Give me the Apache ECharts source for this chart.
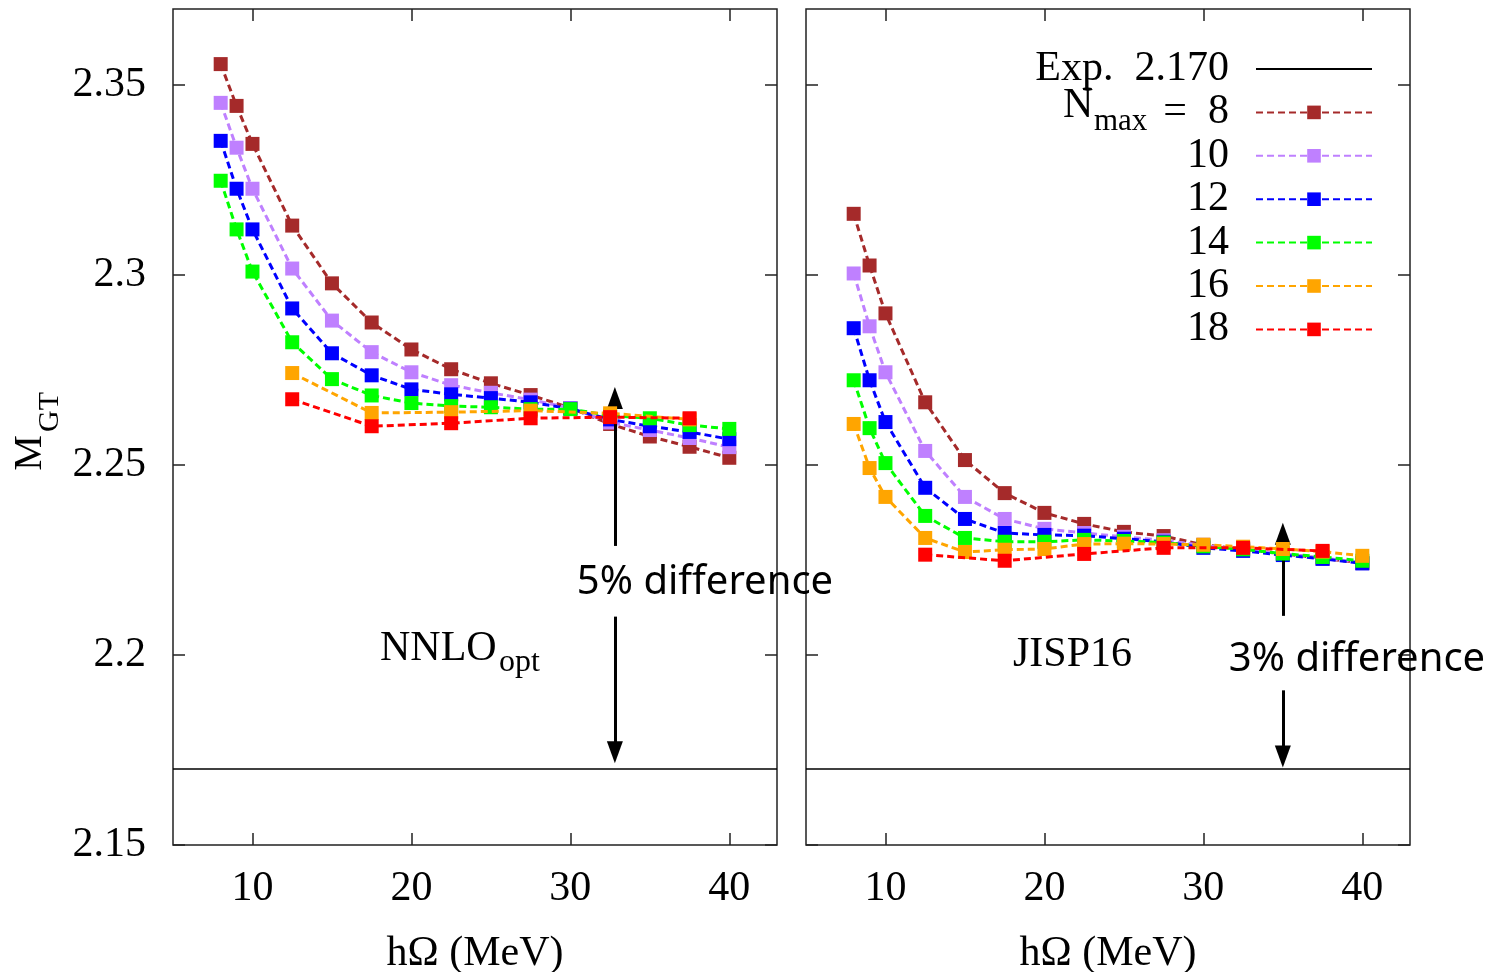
<!DOCTYPE html>
<html><head><meta charset="utf-8">
<script src="https://cdn.jsdelivr.net/npm/echarts@6/dist/echarts.min.js"></script>
<style>html,body{margin:0;padding:0;background:#fff}#c{width:1502px;height:972px}</style>
</head><body><div id="c"></div>
<script>
// ---------- data ----------
const hw = [8, 9, 10, 12.5, 15, 17.5, 20, 22.5, 25, 27.5, 30, 32.5, 35, 37.5, 40];
const hwOdd = [12.5, 17.5, 22.5, 27.5, 32.5, 37.5];
const xTicks = [10, 20, 30, 40];
const yTicks = [2.15, 2.2, 2.25, 2.3, 2.35];
const expValue = 2.170;
const nmaxNames = ['8', '10', '12', '14', '16', '18'];
const colors = ['#a52a2a', '#bf80ff', '#0000ff', '#00ff00', '#ffa500', '#ff0000'];

// NNLOopt panel
const nnlo8  = [2.3555, 2.3445, 2.3345, 2.3130, 2.2978, 2.2875, 2.2804, 2.2752, 2.2715, 2.2684, 2.2650, 2.2608, 2.2575, 2.2548, 2.2519];
const nnlo10 = [2.3453, 2.3335, 2.3227, 2.3017, 2.2880, 2.2797, 2.2744, 2.2710, 2.2690, 2.2672, 2.2650, 2.2612, 2.2592, 2.2571, 2.2547];
const nnlo12 = [2.3353, 2.3227, 2.3120, 2.2912, 2.2794, 2.2736, 2.2699, 2.2686, 2.2676, 2.2665, 2.2648, 2.2620, 2.2602, 2.2587, 2.2568];
const nnlo14 = [2.3248, 2.3120, 2.3009, 2.2823, 2.2726, 2.2683, 2.2663, 2.2655, 2.2652, 2.2647, 2.2647, 2.2630, 2.2623, 2.2605, 2.2595];
const nnlo16 = [2.2742, 2.2637, 2.2639, 2.2643, 2.2636, 2.2620];
const nnlo18 = [2.2673, 2.2602, 2.2610, 2.2623, 2.2626, 2.2623];

// JISP16 panel
const jisp8  = [2.3161, 2.3025, 2.2899, 2.2665, 2.2513, 2.2426, 2.2374, 2.2345, 2.2324, 2.2313, 2.2290, 2.2278, 2.2266, 2.2254, 2.2242];
const jisp10 = [2.3004, 2.2865, 2.2744, 2.2537, 2.2416, 2.2358, 2.2332, 2.2321, 2.2311, 2.2302, 2.2288, 2.2278, 2.2266, 2.2255, 2.2243];
const jisp12 = [2.2860, 2.2723, 2.2613, 2.2440, 2.2358, 2.2321, 2.2316, 2.2314, 2.2306, 2.2298, 2.2282, 2.2274, 2.2263, 2.2253, 2.2241];
const jisp14 = [2.2723, 2.2597, 2.2505, 2.2366, 2.2308, 2.2298, 2.2298, 2.2303, 2.2300, 2.2296, 2.2286, 2.2278, 2.2267, 2.2258, 2.2248];
const jisp16 = [2.2608, 2.2492, 2.2416, 2.2308, 2.2271, 2.2277, 2.2279, 2.2292, 2.2293, 2.2292, 2.2290, 2.2285, 2.2279, 2.2272, 2.2261];
const jisp18 = [2.2264, 2.2248, 2.2266, 2.2282, 2.2282, 2.2274];

// difference arrows (x, upper segment from->to, lower segment from->to)
const arrow5 = {x: 32.8, up: [2.2287, 2.2676], down: [2.2101, 2.1744]};
const arrow3 = {x: 35.0, up: [2.2103, 2.2319], down: [2.1907, 2.1733]};

// ---------- chart ----------
const SERIF = 'Liberation Serif';
const FRAME = '#222';
const chart = echarts.init(document.getElementById('c'), null, {renderer: 'canvas'});

const panelSets = [
  {grid: 0, xs: [hw, hw, hw, hw, hwOdd, hwOdd], ys: [nnlo8, nnlo10, nnlo12, nnlo14, nnlo16, nnlo18], arrow: arrow5},
  {grid: 1, xs: [hw, hw, hw, hw, hw, hwOdd], ys: [jisp8, jisp10, jisp12, jisp14, jisp16, jisp18], arrow: arrow3}
];

const tickStyle = {inside: true, length: 12, lineStyle: {color: FRAME, width: 1.5}};
const xAxes = [], yAxes = [], series = [];
[0, 1].forEach(g => {
  xAxes.push({
    type: 'value', gridIndex: g, position: 'bottom', min: 5, max: 43,
    axisLine: {show: false}, splitLine: {show: false},
    axisTick: Object.assign({customValues: xTicks}, tickStyle),
    axisLabel: {customValues: xTicks, fontFamily: SERIF, fontSize: 42, color: '#000', margin: 23},
    name: 'hΩ (MeV)', nameLocation: 'middle', nameGap: 88,
    nameTextStyle: {fontFamily: SERIF, fontSize: 42, color: '#000'}
  });
  xAxes.push({
    type: 'value', gridIndex: g, position: 'top', min: 5, max: 43,
    axisLine: {show: false}, splitLine: {show: false},
    axisTick: Object.assign({customValues: xTicks}, tickStyle),
    axisLabel: {show: false}
  });
  yAxes.push({
    type: 'value', gridIndex: g, position: 'left', min: 2.15, max: 2.37,
    axisLine: {show: false}, splitLine: {show: false},
    axisTick: Object.assign({customValues: yTicks}, tickStyle),
    axisLabel: {show: g === 0, customValues: yTicks, fontFamily: SERIF, fontSize: 42, color: '#000', margin: 27,
      formatter: v => String(+v.toFixed(2))}
  });
  yAxes.push({
    type: 'value', gridIndex: g, position: 'right', min: 2.15, max: 2.37,
    axisLine: {show: false}, splitLine: {show: false},
    axisTick: Object.assign({customValues: yTicks}, tickStyle),
    axisLabel: {show: false}
  });
});

panelSets.forEach(p => {
  const xi = p.grid * 2, yi = p.grid * 2;
  const a = p.arrow;
  series.push({
    name: 'Exp.  2.170', type: 'line', xAxisIndex: xi, yAxisIndex: yi,
    data: [[5, expValue], [43, expValue]], symbol: 'none', silent: true,
    itemStyle: {color: 'rgba(0,0,0,0)'},
    lineStyle: {color: '#000', width: 1.5, type: 'solid'},
    z: 1,
    markLine: {
      silent: true, symbol: ['none', 'triangle'], symbolSize: [16, 22],
      label: {show: false}, emphasis: {disabled: true},
      lineStyle: {color: '#000', width: 3, type: 'solid'},
      itemStyle: {color: '#000'},
      data: [
        [{coord: [a.x, a.up[0]]}, {coord: [a.x, a.up[1]]}],
        [{coord: [a.x, a.down[0]]}, {coord: [a.x, a.down[1]]}]
      ]
    }
  });
  nmaxNames.forEach((nm, i) => {
    series.push({
      name: nm, type: 'line', xAxisIndex: xi, yAxisIndex: yi,
      data: p.xs[i].map((x, k) => [x, p.ys[i][k]]),
      symbol: 'rect', symbolSize: 14, silent: true,
      itemStyle: {color: colors[i]},
      lineStyle: {color: colors[i], width: 3, type: [7, 4]},
      z: 2 + i
    });
  });
});

const gridCommon = {top: 9, width: 604, height: 836, show: true, borderColor: FRAME, borderWidth: 1.5,
  backgroundColor: 'transparent', containLabel: false, outerBoundsMode: 'none'};

const option = {
  animation: false,
  backgroundColor: '#fff',
  grid: [
    Object.assign({left: 173}, gridCommon),
    Object.assign({left: 806}, gridCommon)
  ],
  xAxis: xAxes,
  yAxis: yAxes,
  legend: {
    data: ['Exp.  2.170'].concat(nmaxNames),
    orient: 'vertical', right: 129, top: 48, itemGap: 1.4, itemWidth: 116, itemHeight: 17,
    align: 'right', selectedMode: false, padding: 0,
    formatter: n => (n === '8' ? '=  8' : n),
    textStyle: {fontFamily: SERIF, fontSize: 42, color: '#000', lineHeight: 40, width: 230, align: 'right', padding: [0, 22, 0, 0]}
  },
  graphic: [
    {type: 'text', x: 1063, y: 106, z: 100, style: {text: 'N', fontFamily: SERIF, fontSize: 42, fill: '#000', verticalAlign: 'middle'}},
    {type: 'text', x: 1094, y: 122, z: 100, style: {text: 'max', fontFamily: SERIF, fontSize: 31, fill: '#000', verticalAlign: 'middle'}},
    {type: 'text', x: 380, y: 649, z: 100, style: {text: 'NNLO', fontFamily: SERIF, fontSize: 42, fill: '#000', verticalAlign: 'middle'}},
    {type: 'text', x: 499, y: 663, z: 100, style: {text: 'opt', fontFamily: SERIF, fontSize: 32, fill: '#000', verticalAlign: 'middle'}},
    {type: 'text', x: 1013, y: 655, z: 100, style: {text: 'JISP16', fontFamily: SERIF, fontSize: 42, fill: '#000', verticalAlign: 'middle'}},
    {type: 'text', x: 705, y: 583, z: 100, style: {text: '5% difference', fontFamily: 'Noto Sans', fontSize: 40, fill: '#000', align: 'center', verticalAlign: 'middle'}},
    {type: 'text', x: 1357, y: 660, z: 100, style: {text: '3% difference', fontFamily: 'Noto Sans', fontSize: 40, fill: '#000', align: 'center', verticalAlign: 'middle'}},
    {type: 'text', x: 30, y: 453, rotation: Math.PI / 2, z: 100, style: {text: 'M', fontFamily: SERIF, fontSize: 40, fill: '#000', align: 'center', verticalAlign: 'middle'}},
    {type: 'text', x: 50, y: 412, rotation: Math.PI / 2, z: 100, style: {text: 'GT', fontFamily: SERIF, fontSize: 30, fill: '#000', align: 'center', verticalAlign: 'middle'}}
  ],
  series: series
};
chart.setOption(option);
</script>
</body></html>
